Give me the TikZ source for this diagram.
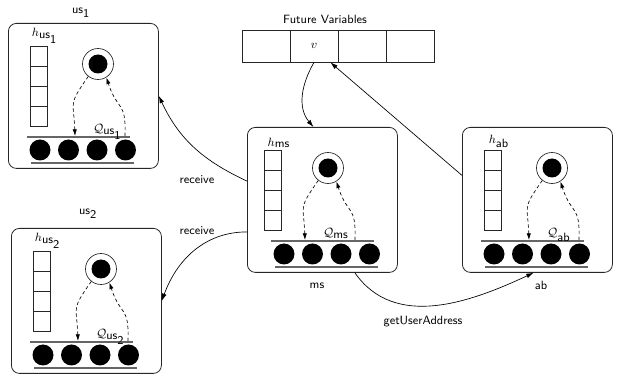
\documentclass[tikz,border=0pt]{standalone}
\usetikzlibrary{arrows.meta,calc}
\begin{document}
\begin{tikzpicture}[x=0.75pt,y=-0.75pt,font=\fontsize{9}{11}\selectfont,
  agent/.style={draw=black!85, line width=0.6pt, rounded corners=6pt,
    minimum width=112.5pt, minimum height=108.75pt, inner sep=0},
  cell/.style={draw=black!85, line width=0.5pt, minimum width=12.75pt,
    minimum height=15pt, inner sep=0},
  fcell/.style={draw=black!85, line width=0.6pt, minimum width=36pt,
    minimum height=24pt, inner sep=0},
  ball/.style={circle, fill=black, minimum size=15.75pt, inner sep=0},
  proc/.style={circle, draw=black!85, line width=0.5pt, minimum size=23.25pt, inner sep=0},
  core/.style={circle, fill=black, minimum size=14.25pt, inner sep=0},
  qline/.style={draw=black!60, line width=1.1pt},
  lbl/.style={font=\sffamily\fontsize{9}{11}\selectfont, inner sep=1pt},
  msg/.style={-{Latex[length=5.5pt,width=3.5pt]}, line width=0.5pt},
  loopback/.style={dash pattern=on 2.5pt off 2pt, line width=0.5pt,
    -{Latex[length=5pt,width=3.2pt]}}]

% an agent: #1 name, (#2,#3) top-left corner, #4 subscript,
% #5 shift of the history stack, #6 shift of the process, #7 shift of the queue
\newcommand\agentbox[7]{%
  \node[agent, anchor=north west] (#1) at (#2,#3) {};
  \foreach \k in {1,...,4}
    \node[cell, anchor=north west] (#1-h\k) at (#2+22+#5, #3+3+20*\k) {};
  \node[anchor=south, inner sep=1.5pt] (#1-hl) at ($(#1-h1.north)+(6,0)$) {$h_{#4}$};
  \node[proc] (#1-c) at (#2+90+#6, #3+41) {};
  \node[core] (#1-ci) at (#1-c) {};
  \draw[qline] (#2+19+#7, #3+114) -- (#2+122+#7, #3+114);
  \foreach \k/\bx in {1/32,2/60.5,3/89,4/117.5}
    \node[ball] (#1-b\k) at (#2+\bx+#7, #3+127) {};
  \draw[qline] (#2+23+#7, #3+140) -- (#2+126+#7, #3+140);
  \coordinate (#1-qin) at (#2+67+#6, #3+113);
  \coordinate (#1-qout) at (#2+117+#6, #3+113);
  \node[anchor=base west, inner sep=0] (#1-q) at (#2+85+#6, #3+110) {$\mathcal{Q}_{#4}$};
  \draw[loopback] (#1-c.232) to[out=235,in=92,looseness=1.5] (#1-qin);
  \draw[loopback] (#1-qout) to[out=88,in=-72,looseness=1.5] (#1-c.-58);
}

\useasboundingbox (0,0) rectangle (640,381);

\agentbox{us1}{8}{23}{\textsf{us}_{\textsf{1}}}{0}{0}{0}
\agentbox{us2}{11}{228}{\textsf{us}_{\textsf{2}}}{0}{0}{0}
\agentbox{ms}{247}{127}{\textsf{ms}}{-5}{-9}{5}
\agentbox{ab}{462}{127}{\textsf{ab}}{0}{0}{0}

\node[lbl] (us1-name) at (81,13) {us$_{\textsf{1}}$};
\node[lbl] (us2-name) at (88,214) {us$_{\textsf{2}}$};
\node[lbl] (ms-name) at (317,286) {ms};
\node[lbl] (ab-name) at (541,285) {ab};

% future variables
\node[lbl] (fv) at (325,19) {Future Variables};
\node[fcell] (f1) at (266,46) {};
\node[fcell] (v) at (314,46) {$v$};
\node[fcell] (f3) at (362,46) {};
\node[fcell] (f4) at (410,46) {};

% messages
\draw[msg] (v.south) to[out=240,in=130] (ms.97);
\draw[msg] (ab.162) -- (v.-45);
\draw[msg] (ms.166) to[out=155,in=-65] (us1.east);
\draw[msg] (ms.203) to[out=180,in=70] (us2.east);
\draw[msg] (ms.-66) to[out=-55,in=205] (ab.-93);

\node[lbl] (rcv1) at (197,180) {receive};
\node[lbl] (rcv2) at (197,231) {receive};
\node[lbl] (gua) at (423,322) {getUserAddress};
\end{tikzpicture}
\end{document}
